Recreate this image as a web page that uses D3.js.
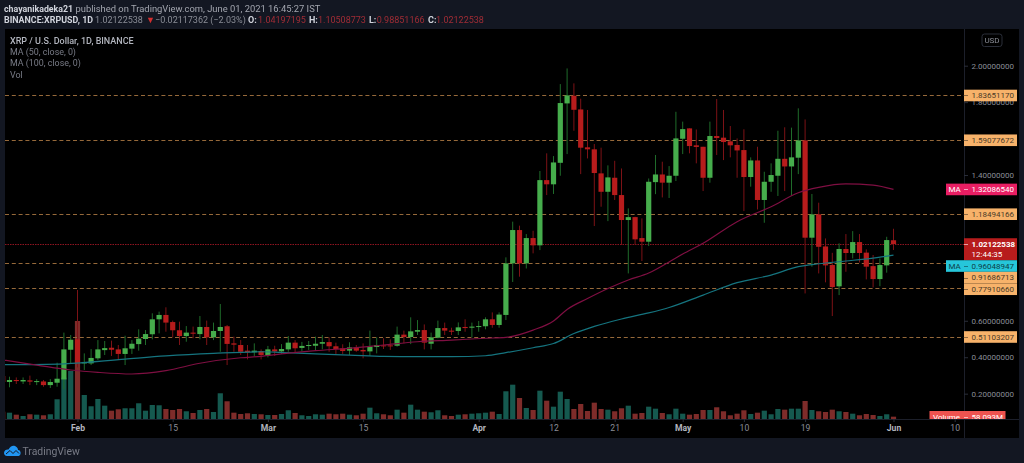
<!DOCTYPE html>
<html lang="en">
<head>
  <meta charset="UTF-8">
  <title>XRP / U.S. Dollar</title>
  <script src="https://d3js.org/d3.v7.min.js"></script>
  <style>
    html, body { margin: 0; padding: 0; background: #131722; overflow: hidden; }
    text { font-family: Roboto, sans-serif; }
    svg { filter: blur(0.3px); }
  </style>
</head>
<body>
  <script>
    // candles are daily, first one is Jan 21 2021, day 0 is Feb 1
    var firstDay = -11;

    var opens = [
      .297,.264,.275,.267,.273,.264,.267,.247,.260,.278,.441,
      .498,.366,.366,.394,.439,.452,.443,.418,.447,.472,.500,.526,.608,.632,.593,.548,.516,.535,.527,.566,.509,.544,.570,.476,.467,.436,.427,.434,
      .412,.443,.432,.443,.480,.451,.462,.463,.474,.483,.460,.449,.436,.454,.440,.432,.456,.465,.465,.463,.524,.511,.540,.549,.474,.507,.560,.546,.544,.566,.562,.566,
      .570,.608,.577,.632,.915,1.098,.915,1.054,1.014,1.372,1.349,1.467,1.793,1.835,1.760,1.552,1.541,1.409,1.308,1.385,1.290,1.153,1.169,1.054,1.034,1.361,1.403,1.358,1.396,1.599,
      1.656,1.563,1.555,1.385,1.614,1.605,1.585,1.565,1.537,1.389,1.480,1.263,1.363,1.396,1.489,1.447,1.495,1.590,1.056,1.184,1.008,.906,.789,.994,.972,1.032,.974,.900,.829,.904,1.042
    ];
    var highs = [
      .304,.293,.289,.289,.299,.280,.275,.280,.370,.535,.522,
      .769,.421,.445,.494,.489,.491,.467,.518,.494,.553,.549,.641,.650,.674,.601,.595,.571,.568,.626,.601,.590,.692,.577,.513,.494,.467,.476,.443,
      .462,.463,.472,.516,.494,.484,.489,.513,.522,.509,.480,.471,.482,.467,.476,.546,.509,.504,.498,.568,.546,.619,.604,.580,.535,.601,.590,.562,.591,.608,.590,.599,
      .619,.646,.646,.948,1.144,1.122,1.076,1.094,1.422,1.519,1.504,1.899,1.985,1.903,1.819,1.757,1.570,1.550,1.453,1.478,1.436,1.217,1.171,1.162,1.381,1.510,1.473,1.449,1.747,1.693,
      1.656,1.650,1.555,1.693,1.817,1.757,1.669,1.601,1.651,1.497,1.555,1.418,1.464,1.643,1.662,1.660,1.766,1.705,1.296,1.248,1.052,.973,1.025,1.076,1.092,1.076,.992,.961,.942,1.061,1.105
    ];
    var lows = [
      .260,.235,.253,.253,.247,.247,.238,.231,.238,.224,.366,
      .344,.330,.357,.385,.412,.407,.385,.357,.418,.436,.467,.498,.531,.540,.509,.467,.485,.504,.498,.467,.494,.430,.357,.430,.412,.388,.407,.388,
      .399,.407,.418,.430,.425,.432,.440,.436,.443,.430,.418,.418,.412,.430,.394,.407,.421,.445,.440,.458,.476,.472,.522,.443,.443,.504,.522,.522,.522,.540,.509,.540,
      .553,.562,.562,.604,.813,.842,.887,.970,.988,1.290,1.296,1.396,1.515,1.643,1.405,1.491,1.120,1.226,1.147,1.263,1.016,.860,1.016,.928,1.010,1.295,1.277,1.274,1.367,1.515,
      1.519,1.464,1.312,1.358,1.510,1.482,1.497,1.385,1.202,1.336,1.211,1.138,1.308,1.285,1.312,1.285,1.405,.750,.897,.860,.811,.626,.741,.869,.942,.920,.827,.783,.790,.864,.9885
    ];
    var closes = [
      .264,.275,.269,.275,.266,.269,.247,.264,.282,.443,.496,
      .366,.374,.396,.443,.450,.441,.418,.449,.474,.502,.527,.608,.632,.590,.548,.516,.535,.529,.566,.509,.544,.566,.473,.469,.430,.427,.436,.412,
      .443,.432,.445,.480,.449,.462,.467,.474,.483,.460,.445,.434,.454,.436,.432,.458,.467,.462,.463,.524,.511,.542,.549,.480,.509,.560,.546,.540,.564,.560,.568,.571,
      .608,.577,.634,.915,1.098,.915,1.054,1.014,1.372,1.349,1.469,1.795,1.837,1.758,1.550,1.541,1.411,1.308,1.387,1.290,1.153,1.169,1.047,1.034,1.363,1.403,1.358,1.396,1.601,1.652,
      1.559,1.554,1.385,1.614,1.603,1.581,1.563,1.535,1.389,1.480,1.263,1.363,1.400,1.489,1.447,1.497,1.590,1.056,1.184,1.006,.904,.785,.994,.972,1.032,.972,.897,.829,.906,1.043,1.0212
    ];
    // volume in millions
    var volumes = [
      183,158,108,75,118,108,93,118,493,1033,1200,
      2450,600,318,500,333,208,243,268,268,393,208,350,343,250,225,250,193,150,225,250,175,643,443,158,125,143,125,118,
      100,100,125,218,150,93,75,118,108,133,118,133,108,93,133,283,143,118,93,233,158,358,233,183,168,218,93,75,108,118,133,143,
      158,183,125,693,858,525,275,225,708,458,308,683,500,250,375,200,408,250,233,193,268,333,133,150,308,258,150,118,258,133,
      108,125,225,225,293,193,93,133,218,125,158,208,118,250,233,258,258,450,225,193,175,233,193,175,133,93,125,100,75,118,58.093
    ];

    var ma50Days = [-11,-6,-1,3,8,13,18,24,27,30,35,40,45,50,55,60,63,67,70,72,75,78,81,84,87,89,92,97,102,106,109,113,117,120];
    var ma50Values = [.385,.357,.330,.317,.308,.326,.367,.397,.405,.418,.436,.449,.467,.485,.494,.504,.509,.549,.599,.662,.722,.777,.824,.862,.923,.966,1.025,1.144,1.226,1.303,1.332,1.351,1.345,1.32086540];
    var ma100Days = [-11,-2,7,13,20,27,30,35,40,45,50,55,60,63,67,70,73,76,80,84,87,92,97,102,106,109,113,117,120];
    var ma100Values = [.359,.364,.390,.407,.421,.430,.426,.418,.412,.405,.403,.403,.408,.425,.452,.475,.530,.569,.610,.643,.673,.741,.809,.851,.897,.913,.928,.944,.96048947];

    var levels = [1.83651170, 1.59077672, 1.18494166, 0.91686713, 0.77910660, 0.51103207];
    var lastPrice = 1.02122538;
    var countdown = "12:44:35";

    var priceTicks = [2, 1.8, 1.4, 0.6, 0.4, 0.2];
    var timeTicks = [0, 14, 28, 42, 59, 70, 79, 89, 98, 107, 120, 129];
    var timeLabels = ["Feb", "15", "Mar", "15", "Apr", "12", "21", "May", "10", "19", "Jun", "10"];
    var boldLabels = ["Feb", "Mar", "Apr", "May", "Jun"];

    var w = 1024;
    var h = 463;
    var left = 5, right = 964, top_ = 29, bottom = 419, frameRight = 1019, frameBottom = 438;
    var upColor = "#46ad4c", downColor = "#b71c1c";
    var axisFont = "8px";

    var x = d3.scaleLinear().domain([0, 129]).range([77.5, 954.7]);
    var y = d3.scaleLinear().domain([0, 2]).range([430.1, 65.7]);
    var yVol = d3.scaleLinear().domain([0, 2450]).range([bottom, bottom - 98]);

    var svg = d3.select("body").append("svg")
      .attr("width", w)
      .attr("height", h)
      .style("display", "block");

    svg.append("rect").attr("x", left).attr("y", top_)
      .attr("width", frameRight - left).attr("height", frameBottom - top_)
      .attr("fill", "#000");

    svg.append("clipPath").attr("id", "plot").append("rect")
      .attr("x", left).attr("y", top_)
      .attr("width", right - left).attr("height", bottom - top_);

    var plot = svg.append("g").attr("clip-path", "url(#plot)");

    var candles = opens.map(function(o, i) {
      return { day: firstDay + i, o: o, h: highs[i], l: lows[i], c: closes[i], v: volumes[i], up: closes[i] >= o };
    });

    // volume under everything
    plot.selectAll(".vol").data(candles).enter().append("rect")
      .attr("class", "vol")
      .attr("x", function(d) { return x(d.day) - 2.6; })
      .attr("width", 5.2)
      .attr("y", function(d) { return yVol(d.v); })
      .attr("height", function(d) { return bottom - yVol(d.v); })
      .attr("fill", function(d) { return d.up ? "#15594f" : "#7e2c2a"; });

    // price lines, snapped so they stay one pixel thick
    function snap(v) { return Math.round(v) + 0.5; }

    plot.selectAll(".level").data(levels).enter().append("line")
      .attr("x1", left).attr("x2", right)
      .attr("y1", function(d) { return snap(y(d)); })
      .attr("y2", function(d) { return snap(y(d)); })
      .attr("stroke", "#96693a")
      .attr("stroke-dasharray", "4 2.8");

    plot.append("line")
      .attr("x1", left).attr("x2", right)
      .attr("y1", snap(y(lastPrice))).attr("y2", snap(y(lastPrice)))
      .attr("stroke", "#8e1420")
      .attr("stroke-dasharray", "1.5 1");

    // wicks then bodies
    plot.selectAll(".wick").data(candles).enter().append("line")
      .attr("class", "wick")
      .attr("x1", function(d) { return x(d.day); })
      .attr("x2", function(d) { return x(d.day); })
      .attr("y1", function(d) { return y(d.h); })
      .attr("y2", function(d) { return y(d.l); })
      .attr("stroke", function(d) { return d.up ? "#1f6b2a" : "#7d1216"; });

    plot.selectAll(".body").data(candles).enter().append("rect")
      .attr("class", "body")
      .attr("x", function(d) { return x(d.day) - 2.6; })
      .attr("width", 5.2)
      .attr("y", function(d) { return y(Math.max(d.o, d.c)); })
      .attr("height", function(d) { return Math.max(1, Math.abs(y(d.o) - y(d.c))); })
      .attr("fill", function(d) { return d.up ? upColor : downColor; });

    var maLine = d3.line()
      .x(function(d) { return x(d[0]); })
      .y(function(d) { return y(d[1]); })
      .curve(d3.curveMonotoneX);

    plot.append("path").attr("d", maLine(d3.zip(ma100Days, ma100Values)))
      .attr("fill", "none").attr("stroke", "#15747f").attr("stroke-width", 1.2);
    plot.append("path").attr("d", maLine(d3.zip(ma50Days, ma50Values)))
      .attr("fill", "none").attr("stroke", "#7f0f42").attr("stroke-width", 1.2);

    // axes
    var axisColor = "#8a8d96";
    svg.append("line").attr("x1", right + 0.5).attr("x2", right + 0.5).attr("y1", top_).attr("y2", frameBottom).attr("stroke", "#1c1f2a");
    svg.append("line").attr("x1", left).attr("x2", frameRight).attr("y1", bottom + 0.5).attr("y2", bottom + 0.5).attr("stroke", "#1c1f2a");

    var yAxis = svg.append("g")
      .attr("transform", "translate(" + right + ",0)")
      .call(d3.axisRight(y).tickValues(priceTicks).tickFormat(d3.format(".8f")).tickSize(4).tickPadding(3.5));
    yAxis.select(".domain").remove();
    yAxis.selectAll("line").attr("stroke", "#2a2e39");
    yAxis.selectAll("text").attr("fill", axisColor).style("font-size", axisFont);

    var xAxis = svg.append("g")
      .attr("transform", "translate(0," + bottom + ")")
      .call(d3.axisBottom(x).tickValues(timeTicks).tickFormat(function(d, i) { return timeLabels[i]; }).tickSize(3).tickPadding(3));
    xAxis.select(".domain").remove();
    xAxis.selectAll("line").attr("stroke", "#2a2e39");
    xAxis.selectAll("text")
      .attr("fill", function(d, i) { return boldLabels.indexOf(timeLabels[i]) >= 0 ? "#b2b5be" : axisColor; })
      .style("font-weight", function(d, i) { return boldLabels.indexOf(timeLabels[i]) >= 0 ? "700" : "400"; })
      .style("font-size", "8.6px");

    // right side labels, pushed down when they run into each other
    var lastBoxH = 22, boxH = 11.6;
    var labels = [
      { price: lastPrice, kind: "last" },
      { price: ma100Values[ma100Values.length - 1], kind: "ma", fill: "#26c6da", ink: "#0d3f47" },
      { price: ma50Values[ma50Values.length - 1], kind: "ma", fill: "#e91e63", ink: "#fff" }
    ].concat(levels.map(function(d) { return { price: d, kind: "level" }; }))
     .sort(function(a, b) { return b.price - a.price; });

    var boxBottom = 0;
    labels.forEach(function(d) {
      var bh = d.kind == "last" ? lastBoxH : boxH;
      var off = d.kind == "last" ? 5.8 : bh / 2;
      var t = Math.max(y(d.price) - off, boxBottom);
      var g = svg.append("g");
      var bx = d.kind == "ma" ? 946 : right;
      g.append("rect").attr("x", bx).attr("y", t).attr("width", 1017 - bx).attr("height", bh)
        .attr("fill", d.kind == "last" ? "#b71c1c" : d.kind == "ma" ? d.fill : "#f7b26a");
      var ink = d.kind == "last" ? "#fff" : d.kind == "ma" ? d.ink : "#4a3a28";
      g.append("line").attr("x1", right).attr("x2", right + 4)
        .attr("y1", snap(t + bh / 2 - (d.kind == "last" ? 5 : 0))).attr("y2", snap(t + bh / 2 - (d.kind == "last" ? 5 : 0)))
        .attr("stroke", ink).attr("stroke-opacity", 0.6);
      g.append("text").attr("x", 971.5).attr("y", t + 8.6)
        .attr("fill", ink)
        .style("font-size", axisFont)
        .style("font-weight", d.kind == "last" ? "700" : "400")
        .text(d3.format(".8f")(d.price));
      if (d.kind == "ma") {
        g.append("text").attr("x", 948.5).attr("y", t + 8.6).attr("fill", ink).style("font-size", axisFont).text("MA");
      }
      if (d.kind == "last") {
        g.append("text").attr("x", 971.5).attr("y", t + 18.6).attr("fill", "#fff").style("font-size", axisFont).text(countdown);
      }
      boxBottom = t + bh;
    });

    // volume label is cut off by the time axis
    svg.append("clipPath").attr("id", "vol-clip").append("rect").attr("x", 900).attr("y", 400).attr("width", 120).attr("height", bottom - 400);
    var volLabel = svg.append("g").attr("clip-path", "url(#vol-clip)");
    volLabel.append("rect").attr("x", 929.5).attr("y", 411).attr("width", 76).attr("height", 12).attr("fill", "#ef5350");
    volLabel.append("line").attr("x1", right).attr("x2", right + 4).attr("y1", 417.5).attr("y2", 417.5).attr("stroke", "#fff").attr("stroke-opacity", 0.6);
    volLabel.append("text").attr("x", 933).attr("y", 420).attr("fill", "#fff").style("font-size", axisFont).text("Volume");
    volLabel.append("text").attr("x", 971.5).attr("y", 420).attr("fill", "#fff").style("font-size", axisFont)
      .text(d3.format(".3f")(volumes[volumes.length - 1]) + "M");

    // USD button
    svg.append("rect").attr("x", 982).attr("y", 34).attr("width", 20).attr("height", 12.5).attr("rx", 2.5)
      .attr("fill", "none").attr("stroke", "#2a2e39");
    svg.append("text").attr("x", 992).attr("y", 43).attr("text-anchor", "middle").attr("fill", axisColor).style("font-size", "8px").text("USD");

    // legend
    var legend = [
      ["XRP / U.S. Dollar, 1D, BINANCE", 43.5, "#b2b5be", "500", "9px"],
      ["MA (50, close, 0)", 55.2, "#787b86", "400", "8.9px"],
      ["MA (100, close, 0)", 66.2, "#787b86", "400", "8.9px"],
      ["Vol", 78, "#787b86", "400", "8.9px"]
    ];
    svg.selectAll(".legend").data(legend).enter().append("text")
      .attr("x", 10)
      .attr("y", function(d) { return d[1]; })
      .attr("fill", function(d) { return d[2]; })
      .style("font-weight", function(d) { return d[3]; })
      .style("font-size", function(d) { return d[4]; })
      .text(function(d) { return d[0]; });

    // header, two lines
    var head = [
      ["chayanikadeka21", 4, 11.5, "#d1d4dc", "700", "8.8px"],
      ["published on TradingView.com, June 01, 2021 16:45:27 IST", 75.5, 11.5, "#a3a6af", "400", "9.4px"],
      ["BINANCE:XRPUSD, 1D", 4, 23, "#d1d4dc", "700", "8.9px"],
      ["1.02122538", 95, 23, "#8a8d96", "400", "9px"],
      ["\u25BC", 146, 23, "#d32f2f", "400", "9px"],
      ["\u22120.02117362 (\u22122.03%)", 155, 23, "#8a8d96", "400", "9px"],
      ["O:", 248, 23, "#d1d4dc", "700", "9px"],
      ["1.04197195", 258, 23, "#a02c35", "400", "9px"],
      ["H:", 309, 23, "#d1d4dc", "700", "9px"],
      ["1.10508773", 318, 23, "#a02c35", "400", "9px"],
      ["L:", 369, 23, "#d1d4dc", "700", "9px"],
      ["0.98851166", 376.7, 23, "#a02c35", "400", "9px"],
      ["C:", 428, 23, "#d1d4dc", "700", "9px"],
      ["1.02122538", 436, 23, "#a02c35", "400", "9px"]
    ];
    svg.selectAll(".head").data(head).enter().append("text")
      .attr("x", function(d) { return d[1]; })
      .attr("y", function(d) { return d[2]; })
      .attr("fill", function(d) { return d[3]; })
      .style("font-weight", function(d) { return d[4]; })
      .style("font-size", function(d) { return d[5]; })
      .text(function(d) { return d[0]; });

    // logo
    var logo = svg.append("g").attr("transform", "translate(4,445)");
    logo.append("path")
      .attr("d", "M0 8 C0 5 3 4 4.5 4.5 C6 1 9 0 11 1 C13.5 2 14 4 14 5 C16 5 17 7 16.5 9 C16 10.5 15 11 14 11 L3 11 C1 11 0 9.5 0 8 Z")
      .attr("fill", "#2196f3");
    logo.append("path")
      .attr("d", "M2 9 L6 5.5 L9 8.5 L12 5.5 L15 8.5")
      .attr("fill", "none").attr("stroke", "#131722").attr("stroke-width", 1);
    svg.append("text").attr("x", 22.5).attr("y", 454.5).attr("fill", "#787b86").style("font-size", "10.4px").text("TradingView");
  </script>
</body>
</html>
